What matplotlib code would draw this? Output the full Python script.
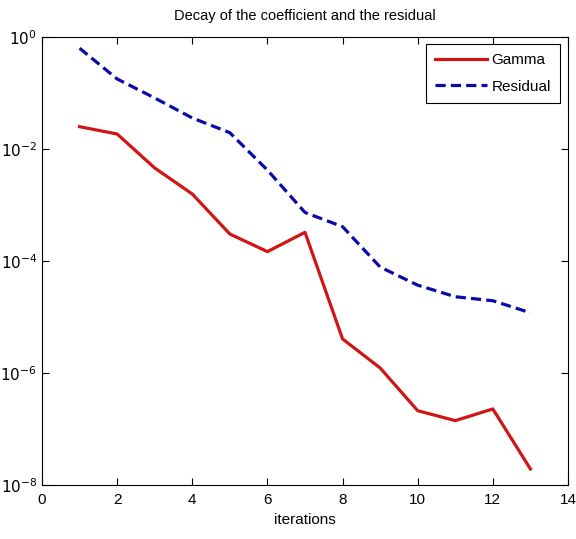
import matplotlib
matplotlib.use("Agg")
import matplotlib.pyplot as plt
from matplotlib.ticker import NullLocator, FixedLocator, FixedFormatter

plt.rcParams['font.family'] = ['Liberation Sans', 'DejaVu Sans']

iterations = [1, 2, 3, 4, 5, 6, 7, 8, 9, 10, 11, 12, 13]
gamma = [0.025, 0.0185, 0.00458, 0.00157, 3.03e-4, 1.47e-4, 3.25e-4,
         4.05e-6, 1.23e-6, 2.12e-7, 1.41e-7, 2.28e-7, 1.93e-8]
residual = [0.63, 0.178, 0.0814, 0.0358, 0.0195, 0.0042, 7.35e-4,
            4.1e-4, 7.8e-5, 3.7e-5, 2.3e-5, 1.95e-5, 1.19e-5]
xticks = [0, 2, 4, 6, 8, 10, 12, 14]
yticks = [1e-8, 1e-6, 1e-4, 1e-2, 1e0]
ytick_labels = [r'$10^{\mathrm{-8}}$', r'$10^{\mathrm{-6}}$', r'$10^{\mathrm{-4}}$',
                r'$10^{\mathrm{-2}}$', r'$10^{\mathrm{0}}$']

fig = plt.figure(figsize=(5.76, 5.39), dpi=100)
ax = fig.add_axes([0.0729, 0.1002, 0.9132, 0.8312])

ax.semilogy(iterations, gamma, color='#d01515', linewidth=2.3, label='Gamma')
ax.semilogy(iterations, residual, color='#0a0aa8', linewidth=2.3,
            linestyle=(0, (3.2, 1.6)), label='Residual')

ax.set_xlim(0, 14)
ax.set_ylim(1e-8, 1e0)
ax.xaxis.set_major_locator(FixedLocator(xticks))
ax.yaxis.set_major_locator(FixedLocator(yticks))
ax.yaxis.set_major_formatter(FixedFormatter(ytick_labels))
ax.yaxis.set_minor_locator(NullLocator())
ax.tick_params(direction='in', top=True, right=True, length=5, width=0.8,
               labelsize=11)
ax.tick_params(axis='x', pad=6)
for s in ax.spines.values():
    s.set_linewidth(0.8)

ax.set_title('Decay of the coefficient and the residual', fontsize=10.5, pad=12)
ax.set_xlabel('iterations', fontsize=11, labelpad=4)

leg = ax.legend(loc='upper right', fontsize=11, fancybox=False,
                edgecolor='black', framealpha=1, handlelength=3.4,
                borderpad=0.6, labelspacing=0.8, handletextpad=0.3,
                borderaxespad=0, bbox_to_anchor=(0.985, 0.984))
leg.get_frame().set_linewidth(0.8)

fig.savefig('out.png', dpi=100)
